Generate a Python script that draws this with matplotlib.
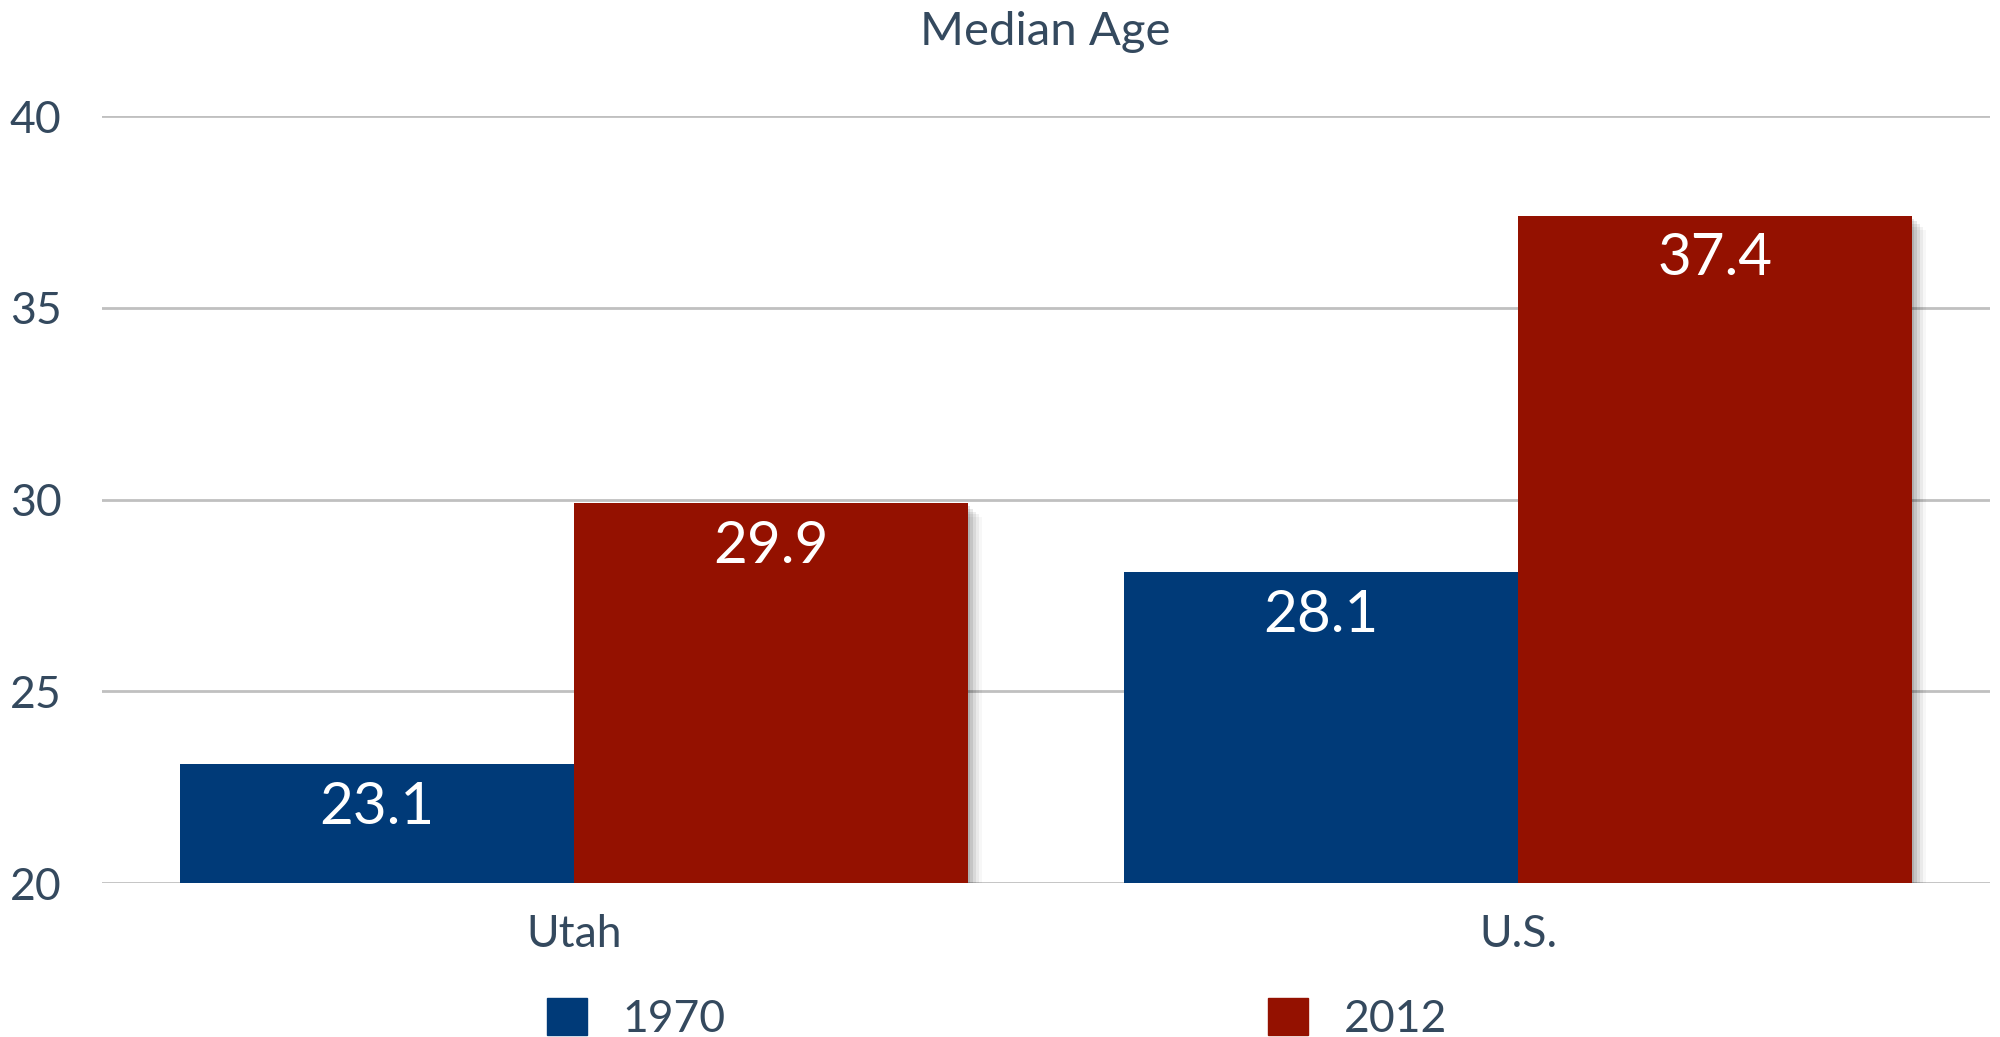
import numpy as np
import matplotlib
matplotlib.use('Agg')
import matplotlib.pyplot as plt
import matplotlib.patheffects as pe
from matplotlib.patches import Patch

plt.rcParams['font.family'] = ['Lato', 'DejaVu Sans']

categories = ['Utah', 'U.S.']
years = ['1970', '2012']
values_1970 = [23.1, 28.1]
values_2012 = [29.9, 37.4]
yticks = [20, 25, 30, 35, 40]

blue = '#003a78'
red = '#941100'
text_col = '#34495e'

fig = plt.figure(figsize=(20, 10.37), dpi=100)
ax = fig.add_axes([0.051, 0.1485, 0.944, 0.7396])

x = np.arange(len(categories))
w = 0.417

# soft drop shadow under the bars
shadow = [pe.SimplePatchShadow(offset=(o, -o), shadow_rgbFace='k', alpha=a)
          for o, a in [(10, 0.03), (8, 0.05), (6, 0.07), (4, 0.09), (2, 0.1)]] + [pe.Normal()]

b1 = ax.bar(x - w / 2, np.array(values_1970) - 20, w, bottom=20, color=blue, zorder=3)
b2 = ax.bar(x + w / 2, np.array(values_2012) - 20, w, bottom=20, color=red, zorder=3)
for bars in (b1, b2):
    for r in bars:
        r.set_path_effects(shadow)

for xs, vals in ((x - w / 2, values_1970), (x + w / 2, values_2012)):
    for xi, v in zip(xs, vals):
        ax.annotate(f'{v}', (xi, v), xytext=(0, -12), textcoords='offset points',
                    ha='center', va='top', color='white', fontsize=42, zorder=5)

ax.set_xlim(-0.5, 1.5)
ax.set_ylim(20, 40)
ax.set_yticks(yticks)
ax.set_xticks(x)
ax.set_xticklabels(categories)
ax.grid(axis='y', color='#c0c0c0', linewidth=2, zorder=0)
ax.set_axisbelow(True)
for s in ax.spines.values():
    s.set_visible(False)
ax.tick_params(axis='both', length=0, labelsize=32, colors=text_col)
ax.tick_params(axis='y', pad=29)
ax.tick_params(axis='x', pad=22)

fig.text(0.5225, 0.969, 'Median Age', ha='center', va='center', fontsize=34, color=text_col)

handles = [Patch(color=blue, label=years[0]), Patch(color=red, label=years[1])]
leg = fig.legend(handles=handles, ncol=2, loc='center', bbox_to_anchor=(0.4985, 0.017),
                 frameon=False, fontsize=32, handlelength=0.9, handleheight=0.9,
                 handletextpad=0.8, columnspacing=12.2)
for t in leg.get_texts():
    t.set_color(text_col)

fig.savefig('out.png', dpi=100, facecolor='white')
